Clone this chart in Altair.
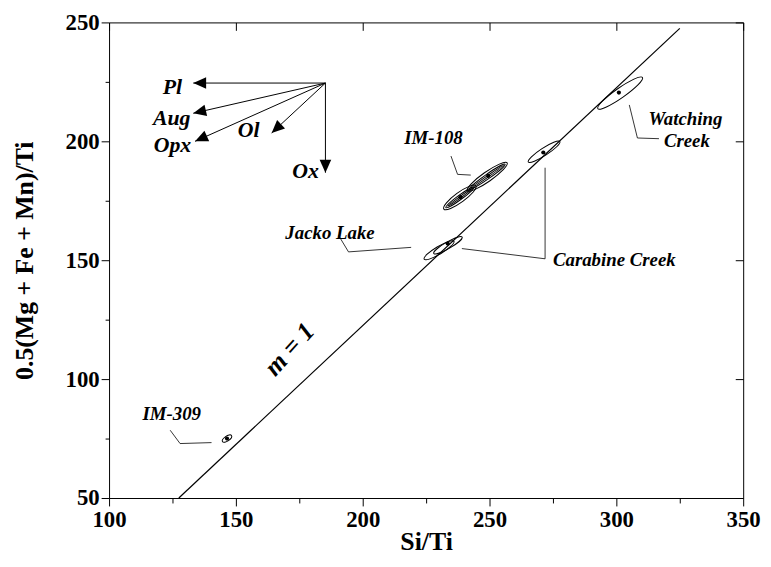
import altair as alt
import pandas as pd

# ---------------- data ----------------
# m = 1 reference line
ref_x = [127.5, 325.0]
ref_y = [50.0, 247.5]

# confidence ellipses (centre, long-axis length in px, width ratio, tilt in degrees)
ell_site = ["Watching Creek", "Carabine Creek", "Jacko Lake", "Carabine Creek",
            "IM-108", "IM-108", "IM-108", "IM-108", "IM-108", "IM-108", "IM-309"]
ell_x = [301.5, 271.5, 230.1, 233.6, 238.3, 238.3, 238.3, 249.1, 249.1, 249.1, 146.5]
ell_y = [220.3, 195.6, 154.2, 156.3, 176.4, 176.4, 176.4, 185.1, 185.1, 185.1, 75.0]
ell_len = [55, 38, 35, 33, 40, 35, 30, 49, 44, 40, 11]
ell_ratio = [0.18, 0.20, 0.22, 0.20, 0.25, 0.13, 0.05, 0.20, 0.11, 0.04, 0.45]
ell_tilt = [35, 33, 31, 30, 36, 36, 36, 35, 35, 35, 35]

# mean points
dot_x = [301.0, 271.2, 233.5, 238.5, 249.5, 146.5]
dot_y = [220.5, 195.3, 157.0, 176.5, 185.5, 75.0]

# fractionation vectors
vec_name = ["Pl", "Aug", "Opx", "Ol", "Ox"]
vec_x0 = 185.3
vec_y0 = 224.5
vec_x1 = [133.2, 133.2, 133.9, 164.1, 185.3]
vec_y1 = [224.5, 211.8, 200.0, 203.5, 186.8]
vec_head_angle = [270, 257, 246, 227, 180]
vec_lab_x = [125.0, 124.7, 125.0, 155.0, 177.5]
vec_lab_y = [222.9, 209.7, 198.6, 204.9, 187.5]

# site labels
site_text = ["IM-309", "Jacko Lake", "IM-108", "Carabine Creek", "Watching", "Creek"]
site_x = [124.7, 187.1, 227.9, 299.2, 327.2, 327.8]
site_y = [85.4, 161.3, 201.4, 150.0, 209.4, 200.3]

# leader lines
lead_group = ["IM-309"] * 3 + ["Jacko"] * 3 + ["Carabine"] * 3 + ["IM-108"] * 3 + ["Watching"] * 3
lead_x = [124.1, 128.0, 140.4,
          190.5, 194.4, 219.1,
          239.1, 271.9, 271.9,
          234.8, 237.4, 242.6,
          305.1, 308.3, 316.8]
lead_y = [78.5, 72.9, 73.3,
          160.4, 153.5, 155.4,
          154.9, 150.6, 188.9,
          193.8, 186.1, 185.8,
          215.3, 201.4, 201.1]

x_major = [100, 150, 200, 250, 300, 350]
x_minor = [125, 175, 225, 275, 325]
y_major = [50, 100, 150, 200, 250]
y_minor = [75, 125, 175, 225]

# ---------------- tables ----------------
ref_df = pd.DataFrame({"x": ref_x, "y": ref_y})

ell_df = pd.DataFrame({
    "site": ell_site, "x": ell_x, "y": ell_y,
    "size": [l * l for l in ell_len],
    "shape": [f"M-1,0A1,{r},0,1,0,1,0A1,{r},0,1,0,-1,0Z" for r in ell_ratio],
    "angle": [360 - t for t in ell_tilt],
})
dot_df = pd.DataFrame({"x": dot_x, "y": dot_y})

vrows = []
for n, x1, y1 in zip(vec_name, vec_x1, vec_y1):
    vrows.append({"v": n, "i": 0, "x": vec_x0, "y": vec_y0})
    vrows.append({"v": n, "i": 1, "x": x1, "y": y1})
vec_df = pd.DataFrame(vrows)
head_df = pd.DataFrame({"v": vec_name, "x": vec_x1, "y": vec_y1, "angle": vec_head_angle})
vlab_df = pd.DataFrame({"t": vec_name, "x": vec_lab_x, "y": vec_lab_y})
site_df = pd.DataFrame({"t": site_text, "x": site_x, "y": site_y})
lead_df = pd.DataFrame({"g": lead_group, "i": list(range(len(lead_x))), "x": lead_x, "y": lead_y})
m_df = pd.DataFrame({"t": ["m = 1"], "x": [171.2], "y": [112.5]})

# ---------------- chart ----------------
FONT = "Liberation Serif"
xs = alt.Scale(domain=[100, 350], nice=False, zero=False)
ys = alt.Scale(domain=[50, 250], nice=False, zero=False)

ax_common = dict(labelFont=FONT, labelFontWeight="bold", labelFontSize=23, labelColor="black",
                 titleFont=FONT, titleFontWeight="bold", titleFontSize=26, titleColor="black",
                 domainColor="black", tickColor="black", domainWidth=1, tickWidth=1,
                 grid=False, labelFlush=False, labelOverlap=False)

x_main = alt.Axis(orient="bottom", values=x_major, tickSize=8, labelPadding=3,
                  title="Si/Ti", titleBaseline="alphabetic", titleY=52, **ax_common)
y_main = alt.Axis(orient="left", values=y_major, tickSize=8, labelPadding=2,
                  title="0.5(Mg + Fe + Mn)/Ti", titlePadding=28, **ax_common)
x_min = alt.Axis(orient="bottom", values=x_minor, tickSize=5, labels=False, domain=False,
                 title=None, **ax_common)
y_min = alt.Axis(orient="left", values=y_minor, tickSize=4, labels=False, domain=False,
                 title=None, **ax_common)
x_top = alt.Axis(orient="bottom", offset=-480, values=x_major, tickSize=8, labels=False,
                 title=None, **ax_common)
y_right = alt.Axis(orient="left", offset=-640, values=y_major, tickSize=8, labels=False,
                   title=None, **ax_common)

ref_line = alt.Chart(ref_df).mark_line(color="black", strokeWidth=1.2).encode(
    x=alt.X("x:Q", scale=xs, axis=x_main),
    y=alt.Y("y:Q", scale=ys, axis=y_main),
)

leaders = alt.Chart(lead_df).mark_line(color="black", strokeWidth=0.8).encode(
    x=alt.X("x:Q", scale=xs, axis=x_min),
    y=alt.Y("y:Q", scale=ys, axis=y_min),
    detail="g:N",
    order=alt.Order("i:Q"),
)

vectors = alt.Chart(vec_df).mark_line(color="black", strokeWidth=1).encode(
    x=alt.X("x:Q", scale=xs, axis=x_top),
    y=alt.Y("y:Q", scale=ys, axis=y_right),
    detail="v:N",
    order=alt.Order("i:Q"),
)

heads = alt.Chart(head_df).mark_point(filled=True, color="black", opacity=1,
                                      shape="M0,0L0.45,1L-0.45,1Z", size=676).encode(
    x=alt.X("x:Q", scale=xs, axis=None),
    y=alt.Y("y:Q", scale=ys, axis=None),
    angle=alt.Angle("angle:Q", scale=None),
)

ellipses = alt.Chart(ell_df).mark_point(filled=False, color="black", strokeWidth=1, opacity=1).encode(
    x=alt.X("x:Q", scale=xs, axis=None),
    y=alt.Y("y:Q", scale=ys, axis=None),
    shape=alt.Shape("shape:N", scale=None),
    size=alt.Size("size:Q", scale=None),
    angle=alt.Angle("angle:Q", scale=None),
)

dots = alt.Chart(dot_df).mark_circle(color="black", size=18, opacity=1).encode(
    x=alt.X("x:Q", scale=xs, axis=None),
    y=alt.Y("y:Q", scale=ys, axis=None),
)

vec_labels = alt.Chart(vlab_df).mark_text(font=FONT, fontStyle="italic", fontWeight="bold",
                                          fontSize=22, color="black", align="center",
                                          baseline="middle").encode(
    x=alt.X("x:Q", scale=xs, axis=None),
    y=alt.Y("y:Q", scale=ys, axis=None),
    text="t:N",
)

site_labels = alt.Chart(site_df).mark_text(font=FONT, fontStyle="italic", fontWeight="bold",
                                           fontSize=19, color="black", align="center",
                                           baseline="middle").encode(
    x=alt.X("x:Q", scale=xs, axis=None),
    y=alt.Y("y:Q", scale=ys, axis=None),
    text="t:N",
)

m_label = alt.Chart(m_df).mark_text(font=FONT, fontStyle="italic", fontWeight="bold",
                                    fontSize=26, color="black", align="center",
                                    baseline="middle", angle=312).encode(
    x=alt.X("x:Q", scale=xs, axis=None),
    y=alt.Y("y:Q", scale=ys, axis=None),
    text="t:N",
)

chart = alt.layer(
    ref_line, leaders, vectors, heads, ellipses, dots, vec_labels, site_labels, m_label
).resolve_axis(
    x="independent", y="independent"
).properties(
    width=640, height=480,
    autosize=alt.AutoSizeParams(type="none"),
    padding={"left": 102, "top": 12, "right": 20, "bottom": 59},
    background="white",
).configure_view(stroke=None)

chart.save("out.html", embed_options={"renderer": "svg", "actions": False})
